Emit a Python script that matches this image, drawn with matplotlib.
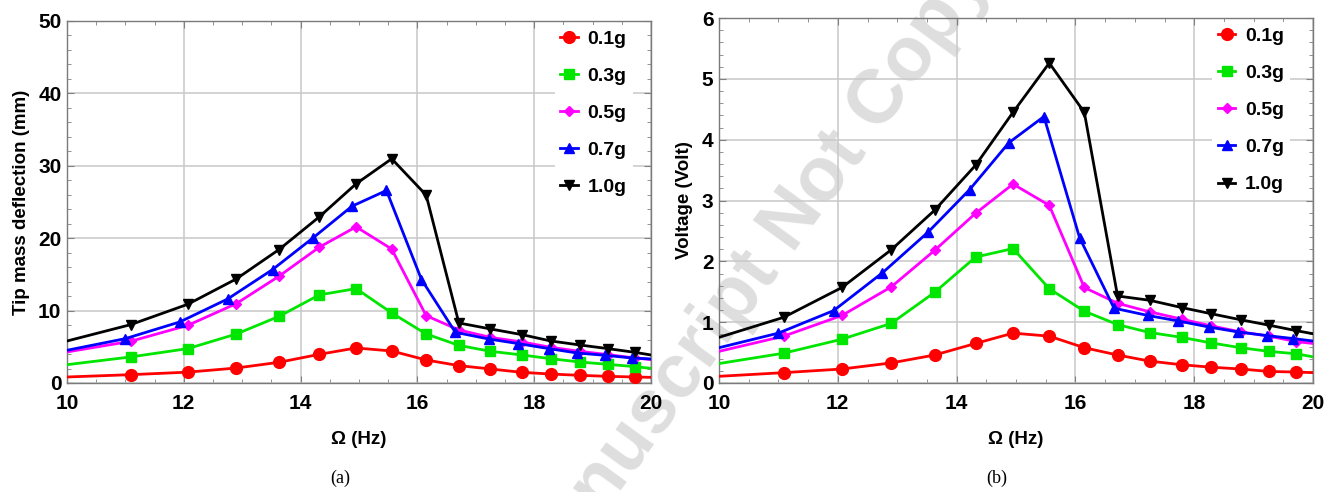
import matplotlib
matplotlib.use("Agg")
import matplotlib.pyplot as plt
from matplotlib.ticker import MultipleLocator

# excitation frequency (Hz); first/last entries are the curve ends at the plot edges
freq = [10, 11.09, 12.07, 12.9, 13.63, 14.32, 14.95, 15.56, 16.15, 16.71,
        17.25, 17.79, 18.28, 18.78, 19.26, 19.72, 20]
freq_07 = [10, 11.0, 11.93, 12.75, 13.52, 14.22, 14.88, 15.47, 16.07, 16.65,
           17.22, 17.73, 18.25, 18.73, 19.22, 19.67, 20]

labels = ["0.1g", "0.3g", "0.5g", "0.7g", "1.0g"]

# tip mass deflection (mm)
defl_01 = [0.83, 1.15, 1.5, 2.07, 2.86, 3.96, 4.84, 4.42, 3.18, 2.4, 1.94, 1.47, 1.24, 1.06, 0.92, 0.83, 0.78]
defl_03 = [2.53, 3.6, 4.75, 6.77, 9.2, 12.17, 13.04, 9.68, 6.77, 5.2, 4.38, 3.87, 3.36, 2.9, 2.58, 2.26, 2.03]
defl_05 = [4.29, 5.76, 7.97, 10.97, 14.75, 18.76, 21.57, 18.5, 9.3, 7.33, 6.3, 5.67, 4.93, 4.38, 3.92, 3.46, 3.23]
defl_07 = [4.52, 6.13, 8.43, 11.6, 15.67, 20.09, 24.42, 26.59, 14.29, 7.0, 6.08, 5.44, 4.75, 4.15, 3.82, 3.46, 3.32]
defl_10 = [5.8, 8.06, 10.88, 14.38, 18.43, 22.95, 27.51, 30.97, 25.95, 8.29, 7.47, 6.68, 5.81, 5.25, 4.75, 4.24, 3.87]

# output voltage (V)
volt_01 = [0.11, 0.17, 0.23, 0.33, 0.46, 0.65, 0.82, 0.77, 0.58, 0.46, 0.36, 0.30, 0.26, 0.23, 0.19, 0.18, 0.17]
volt_03 = [0.32, 0.49, 0.72, 0.98, 1.49, 2.07, 2.21, 1.55, 1.18, 0.96, 0.83, 0.75, 0.66, 0.58, 0.52, 0.48, 0.43]
volt_05 = [0.52, 0.77, 1.11, 1.58, 2.18, 2.79, 3.27, 2.92, 1.57, 1.31, 1.17, 1.05, 0.94, 0.84, 0.77, 0.68, 0.65]
volt_07 = [0.58, 0.82, 1.19, 1.81, 2.48, 3.18, 3.95, 4.38, 2.39, 1.23, 1.11, 1.02, 0.92, 0.84, 0.78, 0.73, 0.69]
volt_10 = [0.75, 1.08, 1.57, 2.19, 2.84, 3.58, 4.45, 5.26, 4.45, 1.43, 1.36, 1.24, 1.14, 1.04, 0.95, 0.86, 0.81]

styles = [
    ("#ff0000", "o", 8.5),
    ("#00e600", "s", 6.5),
    ("#ff00ff", "D", 5.5),
    ("#0000ff", "^", 7.5),
    ("#000000", "v", 7.5),
]

plt.rcParams["font.family"] = ["Liberation Sans", "DejaVu Sans"]
plt.rcParams["font.weight"] = "bold"

W, H = 1327, 492
fig = plt.figure(figsize=(W / 100, H / 100), dpi=100)
ax1 = fig.add_axes([67 / W, 1 - 383 / H, 584 / W, 362 / H])
ax2 = fig.add_axes([719 / W, 1 - 383 / H, 594 / W, 365 / H])

# faint diagonal watermark behind both panels
fig.text(0.535, 0.318, "Accepted Manuscript Not Copyedited", rotation=54,
         rotation_mode="anchor", ha="center", va="center", fontsize=55,
         weight="bold", color="#dedede", zorder=-1)


def draw_panel(ax, series, ymax, ystep, yminor, ylabel, legend_anchor):
    ax.set_facecolor("none")
    for (ys, xs), lab, (col, mk, ms) in zip(series, labels, styles):
        ax.plot(xs, ys, color=col, lw=2, marker=mk, markersize=ms,
                markevery=slice(1, -1), label=lab, zorder=3)
    ax.set_xlim(10, 20)
    ax.set_ylim(0, ymax)
    ax.xaxis.set_major_locator(MultipleLocator(2))
    ax.xaxis.set_minor_locator(MultipleLocator(0.5))
    ax.yaxis.set_major_locator(MultipleLocator(ystep))
    ax.yaxis.set_minor_locator(MultipleLocator(yminor))
    ax.grid(True, which="major", color="#c8c8c8", lw=1.1, zorder=1)
    ax.tick_params(which="both", direction="in", top=True, right=True,
                   color="#808080", labelsize=15)
    ax.tick_params(axis="x", pad=8)
    ax.tick_params(axis="y", pad=4)
    ax.tick_params(which="major", length=5)
    ax.tick_params(which="minor", length=3)
    for sp in ax.spines.values():
        sp.set_color("#7a7a7a")
        sp.set_linewidth(1)
    ax.set_xlabel("Ω (Hz)", fontsize=13.5, weight="bold", labelpad=13)
    ax.set_ylabel(ylabel, fontsize=13.5, weight="bold", labelpad=6)
    leg = ax.legend(loc="upper left", bbox_to_anchor=legend_anchor,
                    fontsize=14, frameon=True, facecolor="white",
                    edgecolor="none", framealpha=1, handlelength=0.9,
                    handletextpad=0.5, labelspacing=1.0, borderaxespad=0,
                    borderpad=0.3)
    leg.get_frame().set_linewidth(0)


draw_panel(ax1,
           [(defl_01, freq), (defl_03, freq), (defl_05, freq),
            (defl_07, freq_07), (defl_10, freq)],
           50, 10, 2, "Tip mass deflection (mm)", (0.835, 0.99))
draw_panel(ax2,
           [(volt_01, freq), (volt_03, freq), (volt_05, freq),
            (volt_07, freq_07), (volt_10, freq)],
           6, 1, 0.2, "Voltage (Volt)", (0.83, 0.99))

fig.text(340 / W, 1 - 478 / H, "(a)", family="Liberation Serif",
         weight="normal", fontsize=13, ha="center", va="center")
fig.text(997 / W, 1 - 478 / H, "(b)", family="Liberation Serif",
         weight="normal", fontsize=13, ha="center", va="center")

fig.savefig("out.png", dpi=100)
